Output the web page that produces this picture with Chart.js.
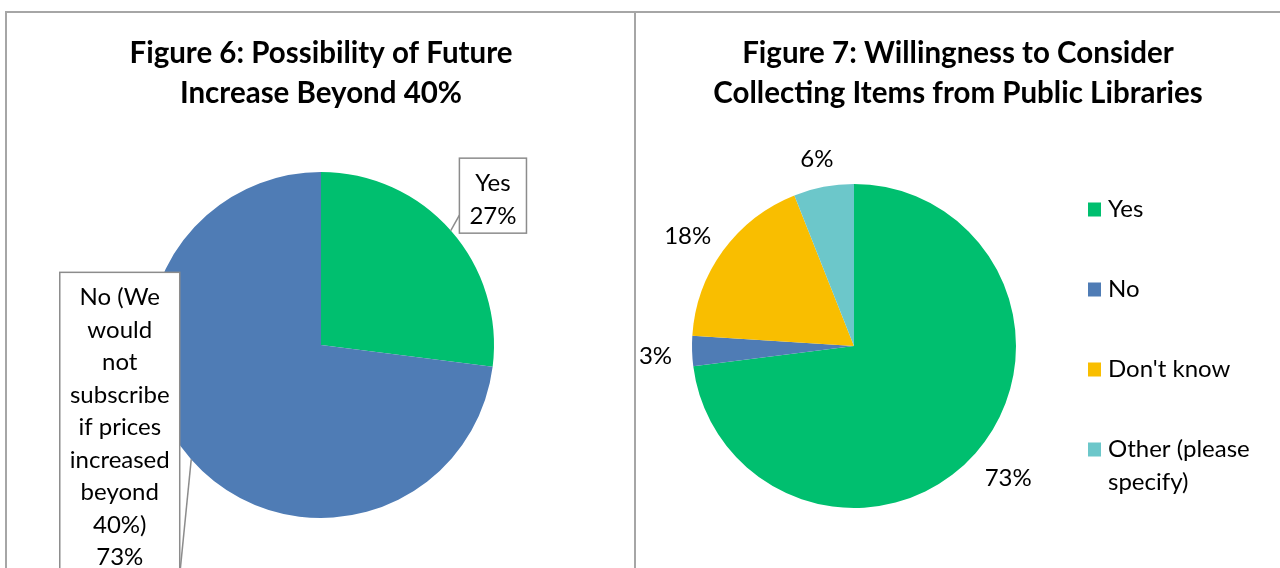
<!DOCTYPE html>
<html>
<head>
<meta charset="utf-8">
<title>Figures 6 and 7</title>
<script src="https://cdn.jsdelivr.net/npm/chart.js@4.4.1/dist/chart.umd.min.js"></script>
<style>
    html, body { margin: 0; padding: 0; background: #fff; overflow: hidden; }
    #frame { position: absolute; left: 5px; top: 11px; width: 1300px; height: 600px;
             border-top: 2px solid #a6a6a6; border-left: 2px solid #a6a6a6; }
    #divider { position: absolute; left: 634px; top: 11px; width: 2px; height: 600px; background: #a6a6a6; }
    .panel { position: absolute; top: 0; height: 568px; }
    #p6 { left: 0; width: 636px; }
    #p7 { left: 636px; width: 644px; }
</style>
</head>
<body>
<div id="frame"></div>
<div id="divider"></div>
<div class="panel" id="p6"><canvas id="fig6"></canvas></div>
<div class="panel" id="p7"><canvas id="fig7"></canvas></div>
<script>
/****************************** Data ********************************/
const fig6Title = ['Figure 6: Possibility of Future', 'Increase Beyond 40%'];
const fig6Labels = ['Yes', ['No (We', 'would', 'not', 'subscribe', 'if prices', 'increased', 'beyond', '40%)']];
const fig6Values = [27, 73];
const fig6Colors = ['#00bf6f', '#4f7cb5'];

const fig7Title = ['Figure 7: Willingness to Consider', 'Collecting Items from Public Libraries'];
const fig7Labels = ['Yes', 'No', "Don't know", ['Other (please', 'specify)']];
const fig7Values = [73, 3, 18, 6];
const fig7Colors = ['#00bf6f', '#4f7cb5', '#f9be00', '#6cc7ca'];

const FONT = 'Lato, "Open Sans", sans-serif';

/****************************** Plugins ********************************/
// two line bold heading at the top of each panel
const panelTitle = {
    id: 'panelTitle',
    afterDraw(chart, args, opts) {
        const ctx = chart.ctx;
        const area = chart.chartArea;
        const x = opts.centerOn === 'area' ? (area.left + area.right) / 2 : chart.width / 2;
        ctx.save();
        ctx.font = 'bold 29.5px ' + FONT;
        ctx.fillStyle = '#000';
        ctx.textAlign = 'center';
        ctx.textBaseline = 'middle';
        opts.lines.forEach((t, i) => ctx.fillText(t, x, 53 + i * 40));
        ctx.restore();
    }
};

// boxed labels with a leader line to the middle of each slice (figure 6)
const calloutLabels = {
    id: 'calloutLabels',
    afterDatasetsDraw(chart, args, opts) {
        const ctx = chart.ctx;
        const values = chart.data.datasets[0].data;
        ctx.save();
        ctx.font = '24px ' + FONT;
        ctx.textAlign = 'center';
        ctx.textBaseline = 'middle';
        chart.getDatasetMeta(0).data.forEach((arc, i) => {
            const spot = opts.spots[i];
            const lines = [].concat(chart.data.labels[i], values[i] + '%');
            const w = Math.max(...lines.map(l => ctx.measureText(l).width)) + 20;
            const h = lines.length * opts.lineHeight + 10;
            const left = arc.x + spot.dx * arc.outerRadius;
            const top = arc.y + spot.dy * arc.outerRadius;

            const mid = (arc.startAngle + arc.endAngle) / 2;
            const ex = arc.x + Math.cos(mid) * arc.outerRadius;
            const ey = arc.y + Math.sin(mid) * arc.outerRadius;

            ctx.fillStyle = '#fff';
            ctx.fillRect(left, top, w, h);
            ctx.strokeStyle = '#8c8c8c';
            ctx.lineWidth = 1.5;
            ctx.strokeRect(left, top, w, h);

            ctx.beginPath();
            ctx.moveTo(ex, ey);
            ctx.lineTo(left + spot.tie[0] * w, top + spot.tie[1] * h);
            ctx.stroke();

            ctx.fillStyle = '#000';
            lines.forEach((l, j) => ctx.fillText(l, left + w / 2, top + 9 + opts.lineHeight * (j + 0.5)));
        });
        ctx.restore();
    }
};

// percentages just outside the rim, plus the legend on the right (figure 7)
const outsideLabels = {
    id: 'outsideLabels',
    afterDatasetsDraw(chart, args, opts) {
        const ctx = chart.ctx;
        const values = chart.data.datasets[0].data;
        const colors = chart.data.datasets[0].backgroundColor;
        const arcs = chart.getDatasetMeta(0).data;
        ctx.save();
        ctx.font = '24px ' + FONT;
        ctx.fillStyle = '#000';
        ctx.textAlign = 'center';
        ctx.textBaseline = 'middle';
        arcs.forEach((arc, i) => {
            const txt = values[i] + '%';
            const w = ctx.measureText(txt).width;
            const mid = (arc.startAngle + arc.endAngle) / 2;
            const dx = Math.cos(mid), dy = Math.sin(mid);
            const d = arc.outerRadius + opts.gap;
            ctx.fillText(txt, arc.x + dx * d + dx * w / 2, arc.y + dy * d + dy * 12 + 4);
        });

        // legend
        const items = chart.data.labels.map(l => [].concat(l));
        const lh = 33, gapY = 47;
        const total = items.reduce((s, it) => s + it.length * lh, 0) + gapY * (items.length - 1);
        let y = arcs[0].y - total / 2;
        const x = chart.chartArea.right + 16;
        ctx.textAlign = 'left';
        items.forEach((lines, i) => {
            ctx.fillStyle = colors[i];
            ctx.fillRect(x, y + lh / 2 - 7, 13, 14);
            ctx.fillStyle = '#000';
            lines.forEach((l, j) => ctx.fillText(l, x + 20, y + lh * (j + 0.5)));
            y += lines.length * lh + gapY;
        });
        ctx.restore();
    }
};

Chart.defaults.font.family = FONT;

/****************************** Figure 6 ********************************/
new Chart(document.getElementById('fig6'), {
    type: 'pie',
    data: {
        labels: fig6Labels,
        datasets: [{
            data: fig6Values,
            backgroundColor: fig6Colors,
            borderWidth: 0,
            hoverOffset: 0
        }]
    },
    options: {
        responsive: true,
        maintainAspectRatio: false,
        animation: false,
        events: [],
        layout: { padding: { left: 6, right: 0, top: 172, bottom: 50 } },
        plugins: {
            legend: { display: false },
            tooltip: { enabled: false },
            panelTitle: { lines: fig6Title, centerOn: 'area' },
            calloutLabels: {
                lineHeight: 32.5,
                spots: [
                    { dx: 0.80, dy: -1.08, tie: [0, 0.76] },
                    { dx: -1.51, dy: -0.42, tie: [1, 1] }
                ]
            }
        }
    },
    plugins: [panelTitle, calloutLabels]
});

/****************************** Figure 7 ********************************/
new Chart(document.getElementById('fig7'), {
    type: 'pie',
    data: {
        labels: fig7Labels,
        datasets: [{
            data: fig7Values,
            backgroundColor: fig7Colors,
            borderWidth: 0,
            hoverOffset: 0
        }]
    },
    options: {
        responsive: true,
        maintainAspectRatio: false,
        animation: false,
        events: [],
        layout: { padding: { left: 0, right: 208, top: 184, bottom: 60 } },
        plugins: {
            legend: { display: false },
            tooltip: { enabled: false },
            panelTitle: { lines: fig7Title, centerOn: 'canvas' },
            outsideLabels: { gap: 20 }
        }
    },
    plugins: [panelTitle, outsideLabels]
});
</script>
</body>
</html>
